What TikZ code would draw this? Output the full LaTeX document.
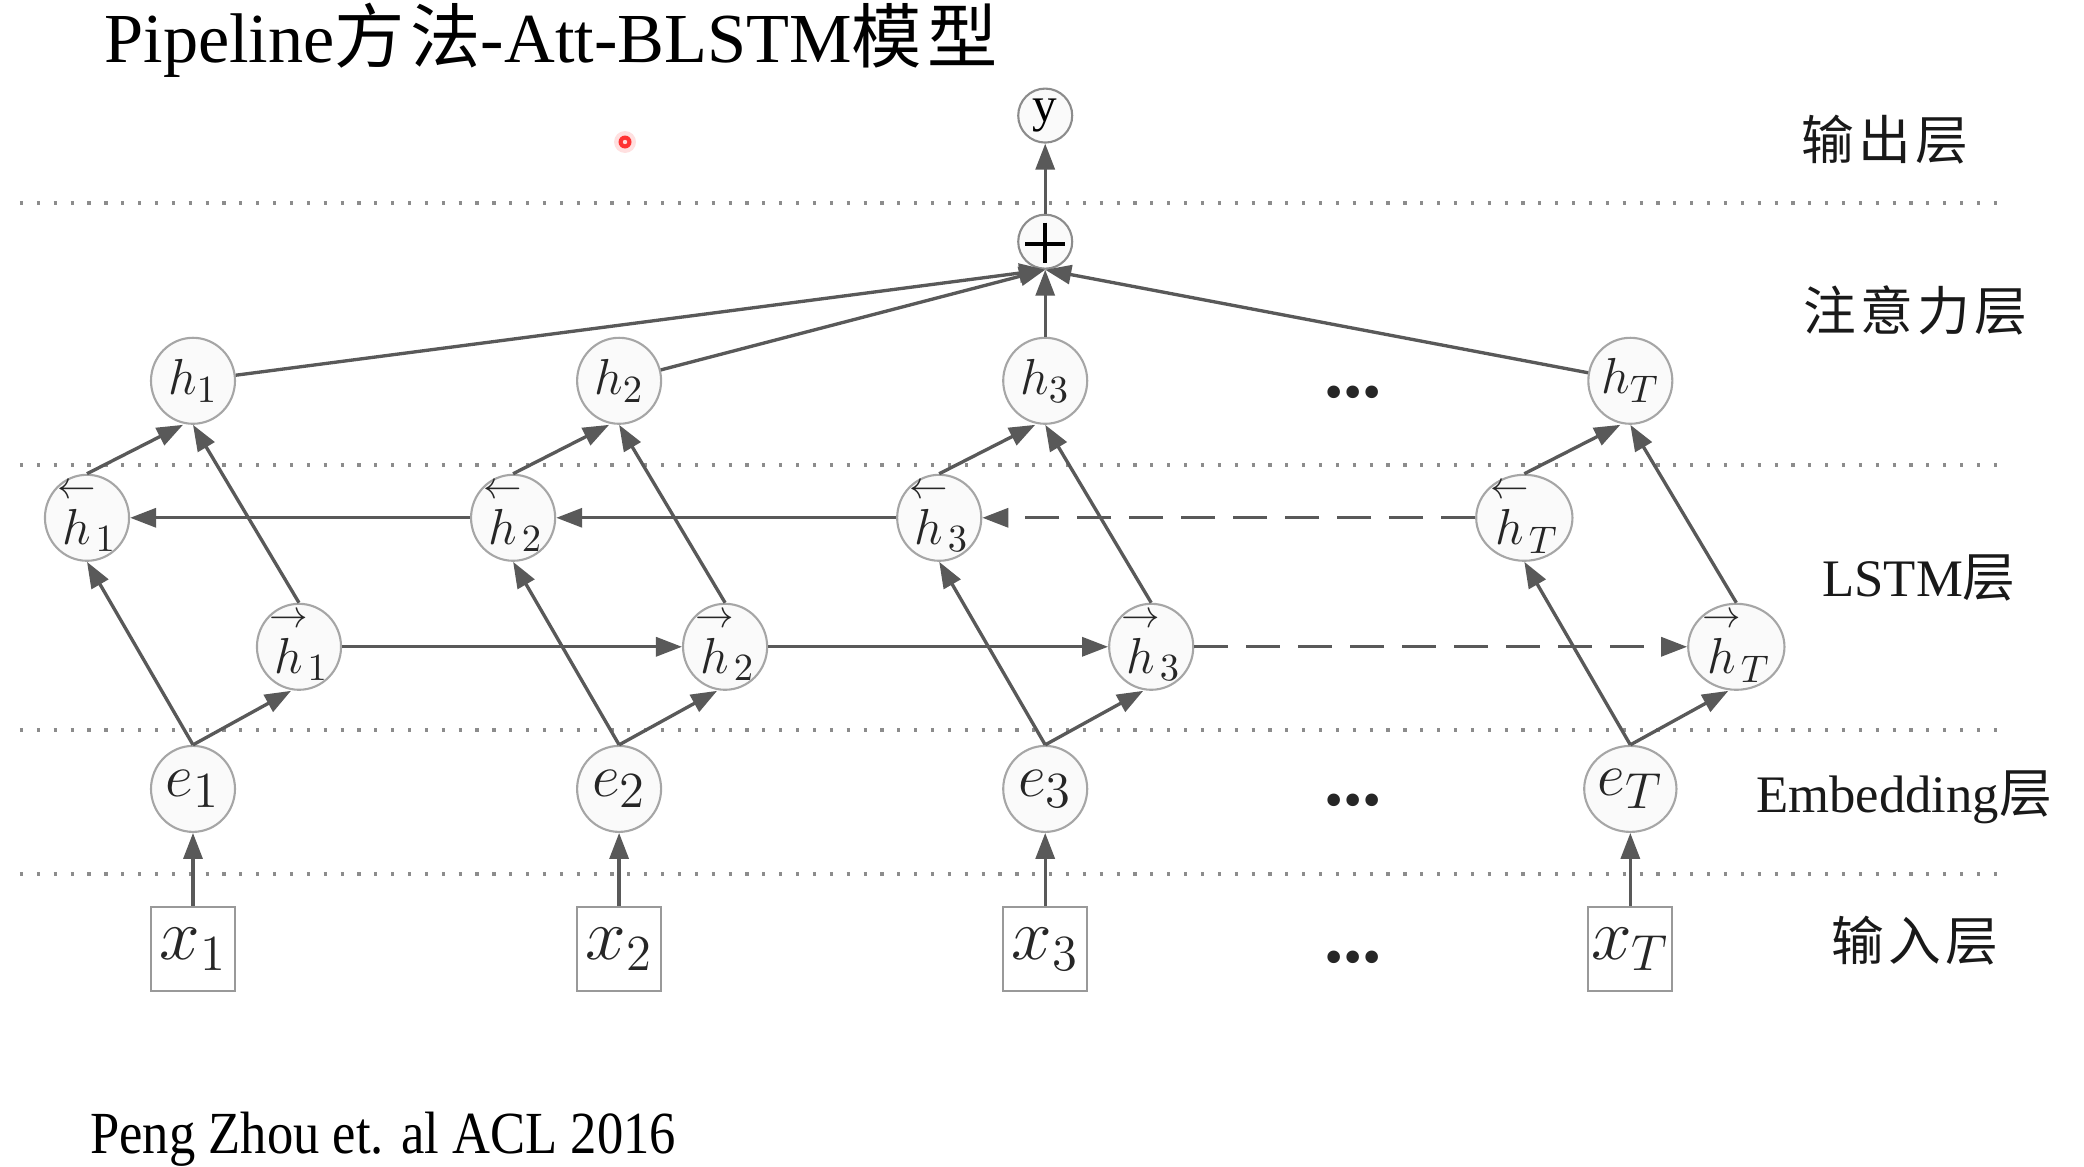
\documentclass[tikz,border=0pt]{standalone}
\usepackage{amsmath,amssymb}
\usepackage{graphicx}
\usepackage{fontspec}
\setmainfont{Liberation Serif}
\newfontfamily\cjk[LetterSpace=8]{Noto Sans CJK SC}
\usepackage{xcolor}
\usepackage{tikz}
\usetikzlibrary{shapes.geometric, arrows.meta, positioning, calc}

\begin{document}
\begin{tikzpicture}[
  node distance=0.73cm,
  cell/.style={ellipse, draw=black!35, fill=black!2, line width=0.6pt, minimum width=0.84cm, minimum height=0.86cm, inner sep=0pt, text=black!85, font=\fontsize{15}{17}\selectfont},
  dircell/.style={cell, text height=15pt, text depth=0pt},
  embcell/.style={cell, font=\fontsize{19}{21}\selectfont},
  inbox/.style={rectangle, draw=black!40, fill=white, line width=0.6pt, minimum size=0.84cm, inner sep=0pt, text=black!85, font=\fontsize{21}{23}\selectfont},
  topcell/.style={circle, draw=black!45, fill=black!2, line width=0.6pt, minimum size=0.54cm, inner sep=0pt, font=\fontsize{14}{16}\selectfont},
  arrow/.style={-{Triangle[length=0.26cm, width=0.19cm]}, line width=0.95pt, draw=black!65},
  dots/.style={font=\fontsize{22}{24}\selectfont\bfseries, text=black!85},
  layer/.style={font=\fontsize{15}{17}\selectfont, text=black!90},
  sep/.style={draw=black!45, line width=0.9pt, dash pattern=on 0.9pt off 3.9pt}
]
\useasboundingbox (0,0) rectangle (20.84,-11.66);

% Layer separators
\draw[sep] (0.20,-2.03) -- (20.00,-2.03);
\draw[sep] (0.20,-4.65) -- (20.00,-4.65);
\draw[sep] (0.20,-7.30) -- (20.00,-7.30);
\draw[sep] (0.20,-8.74) -- (20.00,-8.74);

% Title and source
\node[anchor=base west, font=\fontsize{20}{22}\selectfont] (title) at (0.92,-0.62) {Pipeline{\cjk 方法}-Att-BLSTM{\cjk 模型}};
\node[anchor=base west, font=\fontsize{17}{19}\selectfont] (source) at (0.78,-11.53) {\scalebox{0.88}[1]{Peng Zhou et. al ACL 2016}};

% Pointer
\fill[red!12] (6.25,-1.42) circle (0.11);
\fill[red!80] (6.25,-1.42) circle (0.065);
\fill[red!15] (6.25,-1.42) circle (0.022);

% Nodes
\node[inbox] (x1) at (1.93,-9.49) {$x_{1}$};
\node[inbox, right=3.40cm of x1] (x2) {$x_{2}$};
\node[inbox, right=3.40cm of x2] (x3) {$x_{3}$};
\node[inbox, right=4.99cm of x3] (xT) {$x_{T}$};

\node[embcell, above=of x1] (e1) {$e_{1}$};
\node[embcell, above=of x2] (e2) {$e_{2}$};
\node[embcell, above=of x3] (e3) {$e_{3}$};
\node[embcell, above=of xT] (eT) {$e_{T}$};

\node[cell, above=3.20cm of e1] (h1) {$h_{1}$};
\node[cell, above=3.20cm of e2] (h2) {$h_{2}$};
\node[cell, above=3.20cm of e3] (h3) {$h_{3}$};
\node[cell, above=3.20cm of eT] (hT) {$h_{T}$};

\node[dircell] (bh1) at ($(h1)+(-1.06,-1.37)$) {$\overset{\leftarrow}{h}_{1}$};
\node[dircell] (bh2) at ($(h2)+(-1.06,-1.37)$) {$\overset{\leftarrow}{h}_{2}$};
\node[dircell] (bh3) at ($(h3)+(-1.06,-1.37)$) {$\overset{\leftarrow}{h}_{3}$};
\node[dircell] (bhT) at ($(hT)+(-1.06,-1.37)$) {$\overset{\leftarrow}{h}_{T}$};

\node[dircell] (fh1) at ($(h1)+(1.06,-2.66)$) {$\overset{\rightarrow}{h}_{1}$};
\node[dircell] (fh2) at ($(h2)+(1.06,-2.66)$) {$\overset{\rightarrow}{h}_{2}$};
\node[dircell] (fh3) at ($(h3)+(1.06,-2.66)$) {$\overset{\rightarrow}{h}_{3}$};
\node[dircell] (fhT) at ($(hT)+(1.06,-2.66)$) {$\overset{\rightarrow}{h}_{T}$};

\node[topcell, above=0.67cm of h3] (plus) {};
\node[topcell, above=0.70cm of plus] (y) {y};
\draw[line width=1.1pt] ($(plus)+(-0.2,-0.02)$) -- ($(plus)+(0.2,-0.02)$) ($(plus)+(0,0.19)$) -- ($(plus)+(0,-0.21)$);

\node[dots] (hdots) at (13.53,-3.92) {...};
\node[dots] (edots) at (13.53,-8.00) {...};
\node[dots] (xdots) at (13.53,-9.57) {...};

% Layer names
\node[layer] (outname) at (18.85,-1.40) {\cjk 输出层};
\node[layer] (attname) at (19.15,-3.10) {\cjk 注意力层};
\node[layer] (lstmname) at (19.19,-5.78) {LSTM{\cjk 层}};
\node[layer] (embname) at (19.04,-7.97) {Embedding{\cjk 层}};
\node[layer] (inname) at (19.15,-9.41) {\cjk 输入层};

% Arrows
\draw[arrow] (x1) -- (e1);
\draw[arrow] (x2) -- (e2);
\draw[arrow] (x3) -- (e3);
\draw[arrow] (xT) -- (eT);

\draw[arrow] (e1.north) -- (bh1.south);
\draw[arrow] (e2.north) -- (bh2.south);
\draw[arrow] (e3.north) -- (bh3.south);
\draw[arrow] (eT.north) -- (bhT.south);
\draw[arrow] (e1.north) -- ([xshift=-0.08cm]fh1.south);
\draw[arrow] (e2.north) -- ([xshift=-0.08cm]fh2.south);
\draw[arrow] (e3.north) -- ([xshift=-0.08cm]fh3.south);
\draw[arrow] (eT.north) -- ([xshift=-0.08cm]fhT.south);

\draw[arrow] (fh1) -- (fh2);
\draw[arrow] (fh2) -- (fh3);
\draw[arrow, dash pattern=on 0.34cm off 0.18cm] (fh3) -- (fhT);
\draw[arrow] (bh2) -- (bh1);
\draw[arrow] (bh3) -- (bh2);
\draw[arrow, dash pattern=on 0.34cm off 0.18cm] (bhT) -- (bh3);

\draw[arrow] (bh1.north) -- ([xshift=-0.1cm]h1.south);
\draw[arrow] (bh2.north) -- ([xshift=-0.1cm]h2.south);
\draw[arrow] (bh3.north) -- ([xshift=-0.1cm]h3.south);
\draw[arrow] (bhT.north) -- ([xshift=-0.1cm]hT.south);
\draw[arrow] (fh1.north) -- (h1.south);
\draw[arrow] (fh2.north) -- (h2.south);
\draw[arrow] (fh3.north) -- (h3.south);
\draw[arrow] (fhT.north) -- (hT.south);

\draw[arrow] (h1) -- (plus.south);
\draw[arrow] (h2) -- (plus.south);
\draw[arrow] (h3) -- (plus.south);
\draw[arrow] (hT) -- (plus.south);
\draw[arrow] (plus) -- (y);

\end{tikzpicture}
\end{document}
